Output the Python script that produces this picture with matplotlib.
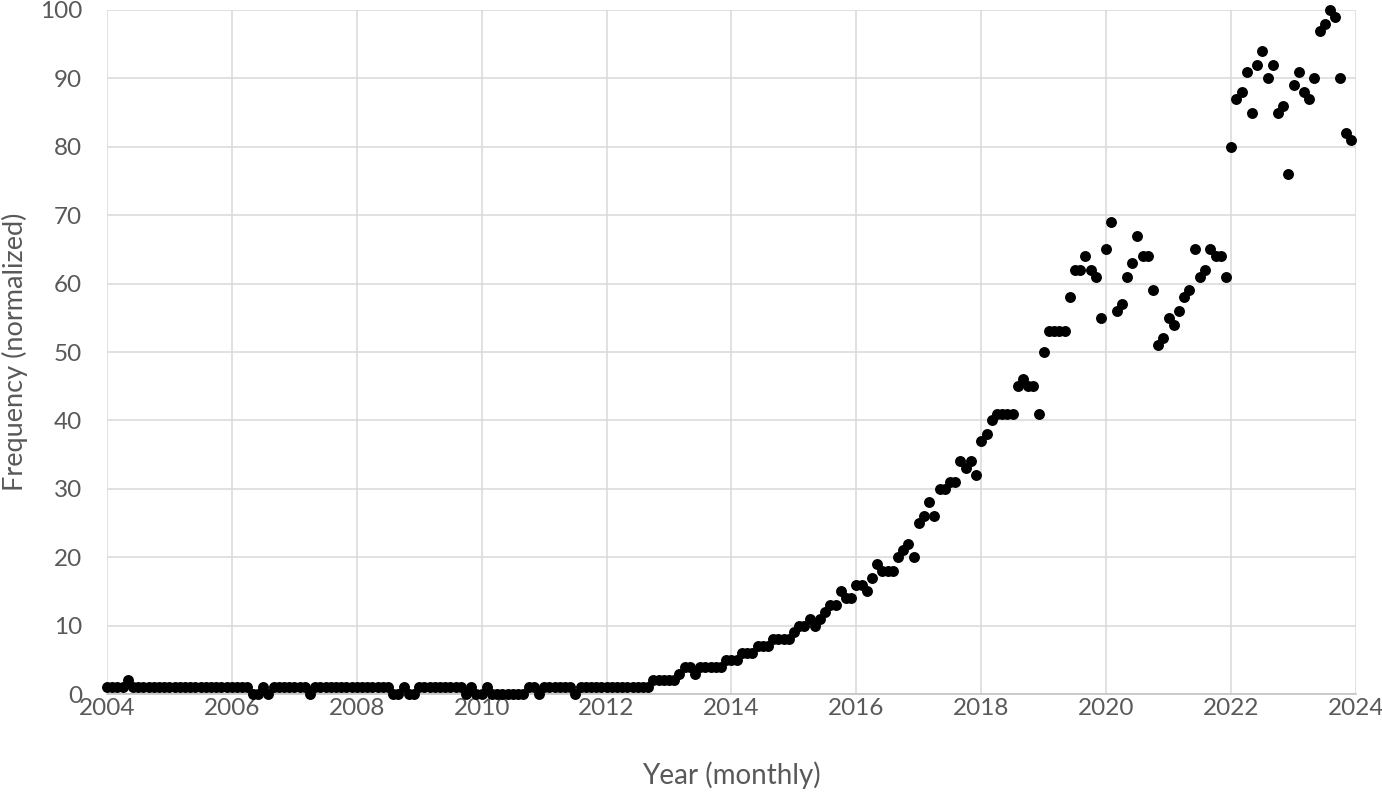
import matplotlib
matplotlib.use('Agg')
import numpy as np
import matplotlib.pyplot as plt

# Monthly normalized frequency, Jan 2004 - Dec 2023 (one row per year)
start_year = 2004
frequency = [
    1, 1, 1, 1, 2, 1, 1, 1, 1, 1, 1, 1,          # 2004
    1, 1, 1, 1, 1, 1, 1, 1, 1, 1, 1, 1,          # 2005
    1, 1, 1, 1, 0, 0, 1, 0, 1, 1, 1, 1,          # 2006
    1, 1, 1, 0, 1, 1, 1, 1, 1, 1, 1, 1,          # 2007
    1, 1, 1, 1, 1, 1, 1, 0, 0, 1, 0, 0,          # 2008
    1, 1, 1, 1, 1, 1, 1, 1, 1, 0, 1, 0,          # 2009
    0, 1, 0, 0, 0, 0, 0, 0, 0, 1, 1, 0,          # 2010
    1, 1, 1, 1, 1, 1, 0, 1, 1, 1, 1, 1,          # 2011
    1, 1, 1, 1, 1, 1, 1, 1, 1, 2, 2, 2,          # 2012
    2, 2, 3, 4, 4, 3, 4, 4, 4, 4, 4, 5,          # 2013
    5, 5, 6, 6, 6, 7, 7, 7, 8, 8, 8, 8,          # 2014
    9, 10, 10, 11, 10, 11, 12, 13, 13, 15, 14, 14,   # 2015
    16, 16, 15, 17, 19, 18, 18, 18, 20, 21, 22, 20,  # 2016
    25, 26, 28, 26, 30, 30, 31, 31, 34, 33, 34, 32,  # 2017
    37, 38, 40, 41, 41, 41, 41, 45, 46, 45, 45, 41,  # 2018
    50, 53, 53, 53, 53, 58, 62, 62, 64, 62, 61, 55,  # 2019
    65, 69, 56, 57, 61, 63, 67, 64, 64, 59, 51, 52,  # 2020
    55, 54, 56, 58, 59, 65, 61, 62, 65, 64, 64, 61,  # 2021
    80, 87, 88, 91, 85, 92, 94, 90, 92, 85, 86, 76,  # 2022
    89, 91, 88, 87, 90, 97, 98, 100, 99, 90, 82, 81, # 2023
]
x_ticks = [2004, 2006, 2008, 2010, 2012, 2014, 2016, 2018, 2020, 2022, 2024]
y_ticks = [0, 10, 20, 30, 40, 50, 60, 70, 80, 90, 100]

plt.rcParams['font.family'] = ['Lato', 'DejaVu Sans']
text_color = '#595959'

months = start_year + np.arange(len(frequency)) / 12

fig = plt.figure(figsize=(13.82, 7.92), dpi=100)
ax = fig.add_axes([0.0774, 0.1237, 0.9038, 0.8637])

ax.scatter(months, frequency, s=62, color='black', zorder=3, clip_on=False,
           linewidths=0)

ax.set_xlim(2004, 2024)
ax.set_ylim(0, 100)
ax.set_xticks(x_ticks)
ax.set_yticks(y_ticks)
ax.grid(True, color='#d9d9d9', linewidth=1.1)
ax.set_axisbelow(True)

for side in ['top', 'right', 'left']:
    ax.spines[side].set_visible(False)
ax.spines['bottom'].set_color('#bfbfbf')
ax.spines['bottom'].set_linewidth(1.1)

ax.tick_params(length=0, labelsize=17.5, labelcolor=text_color)
ax.tick_params(axis='x', pad=3)
ax.tick_params(axis='y', pad=18)

# Axis titles placed where the reference has them
ax.set_xlabel('Year (monthly)', fontsize=20, color=text_color, va='center')
ax.set_ylabel('Frequency (normalized)', fontsize=19.5, color=text_color,
              va='center')
ax.xaxis.set_label_coords(0.5, -0.118)
ax.yaxis.set_label_coords(-0.0735, 0.5)

fig.savefig('out.png', dpi=100)
